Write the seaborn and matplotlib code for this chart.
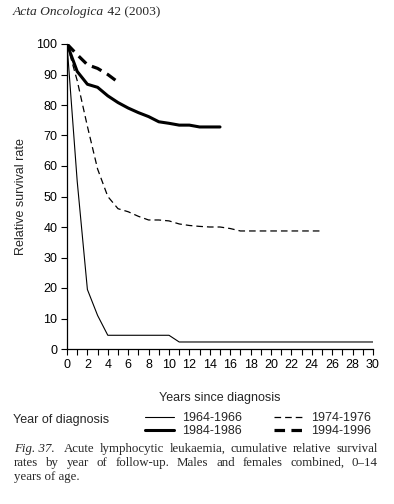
import matplotlib
matplotlib.use("Agg")
import matplotlib.pyplot as plt
from matplotlib.lines import Line2D
import pandas as pd
import seaborn as sns

# relative survival (%) by years since diagnosis
years_6466 = list(range(0, 31))
surv_6466 = [100, 55, 19.5, 11, 4.5, 4.5, 4.5, 4.5, 4.5, 4.5, 4.5,
             2.3, 2.3, 2.3, 2.3, 2.3, 2.3, 2.3, 2.3, 2.3, 2.3,
             2.3, 2.3, 2.3, 2.3, 2.3, 2.3, 2.3, 2.3, 2.3, 2.3]

years_7476 = list(range(0, 26))
surv_7476 = [100, 88, 73, 59, 50, 46, 45, 43.5, 42.3, 42.3, 42, 41, 40.5,
             40.2, 40, 40, 39.5, 38.7, 38.7, 38.7, 38.7, 38.7, 38.7, 38.7,
             38.7, 38.7]

years_8486 = list(range(0, 16))
surv_8486 = [100, 91, 86.8, 85.8, 83, 80.8, 79, 77.5, 76.2, 74.5, 74, 73.4,
             73.4, 72.8, 72.8, 72.8]

years_9496 = list(range(0, 6))
surv_9496 = [100, 96.5, 93.2, 92, 90, 87.5]

periods = ["1964-1966", "1974-1976", "1984-1986", "1994-1996"]
x_ticks = list(range(0, 31))
x_labels = [str(t) if t % 2 == 0 else "" for t in x_ticks]
y_ticks = list(range(0, 101, 10))

caption_1 = ["Acute", "lymphocytic", "leukaemia,", "cumulative", "relative", "survival"]
caption_2 = ["rates", "by", "year", "of", "follow-up.", "Males", "and", "females",
             "combined,", "0\u201314"]
caption_3 = "years of age."

frames = []
for p, xs, ys in zip(periods,
                     [years_6466, years_7476, years_8486, years_9496],
                     [surv_6466, surv_7476, surv_8486, surv_9496]):
    frames.append(pd.DataFrame({"years": xs, "survival": ys, "period": p}))
df = pd.concat(frames, ignore_index=True)

sns.set_theme(style="ticks")
plt.rcParams["font.family"] = ["Liberation Sans", "DejaVu Sans"]

W, H = 394, 504
fig = plt.figure(figsize=(W / 100, H / 100), dpi=100)
ax = fig.add_axes([67 / W, 155 / H, 306 / W, 305 / H])

widths = {"1964-1966": 0.8, "1974-1976": 0.9, "1984-1986": 2.2, "1994-1996": 2.3}
dashes = {"1964-1966": "", "1974-1976": (5.3, 3.2),
          "1984-1986": "", "1994-1996": (3.3, 2.0)}

sns.lineplot(data=df, x="years", y="survival", style="period", size="period",
             sizes=widths, dashes=dashes, style_order=periods, size_order=periods,
             color="black", legend=False, ax=ax)

ax.set_xlim(0, 30)
ax.set_ylim(0, 100)
ax.set_xticks(x_ticks)
ax.set_xticklabels(x_labels)
ax.set_yticks(y_ticks)
ax.tick_params(axis="both", labelsize=9, length=4, width=0.8, color="black",
               labelcolor="black", pad=3)
for s in ["left", "bottom"]:
    ax.spines[s].set_linewidth(0.9)
    ax.spines[s].set_color("black")
sns.despine(ax=ax)

ax.set_xlabel("Years since diagnosis", fontsize=9)
ax.set_ylabel("Relative survival rate", fontsize=9)
ax.xaxis.set_label_coords(0.5, -0.14)
ax.yaxis.set_label_coords(-0.13, 0.5)

# legend block under the axis
fig.text(13 / W, 1 - 420 / H, "Year of diagnosis", fontsize=9, va="center")
handles = [Line2D([], [], color="black", lw=widths[p],
                  dashes=dashes[p] if dashes[p] else (None, None)) for p in periods]
order = [0, 2, 1, 3]
fig.legend([handles[i] for i in order], [periods[i] for i in order], ncol=2,
           loc="upper left", bbox_to_anchor=(145 / W, 1 - 412 / H),
           frameon=False, fontsize=9, handlelength=2.3, handletextpad=0.7,
           columnspacing=2.5, labelspacing=0.1, borderpad=0, borderaxespad=0)

# header and caption (serif, as in the journal page)
fig.canvas.draw()
r = fig.canvas.get_renderer()
serif = ["Liberation Serif", "DejaVu Serif"]


def width_px(t):
    return t.get_window_extent(renderer=r).width


t = fig.text(13 / W, 1 - 15 / H, "Acta Oncologica", fontsize=9.7, family=serif,
             style="italic", va="baseline")
fig.text((13 + width_px(t)) / W, 1 - 15 / H, " 42 (2003)", fontsize=9.7,
         family=serif, va="baseline")

left, right = 14, 378
cap_size = 9.3


def justify(words, y, first=None):
    items = []
    weights = []
    if first is not None:
        items.append(fig.text(0, y, first, fontsize=cap_size, family=serif,
                              style="italic", va="baseline"))
    for w in words:
        items.append(fig.text(0, y, w, fontsize=cap_size, family=serif, va="baseline"))
    ws = [width_px(t) for t in items]
    weights = [1.0] * (len(items) - 1)
    if first is not None:
        weights[0] = 1.8
    gap = (right - left - sum(ws)) / sum(weights)
    x = left
    for i, (t, w) in enumerate(zip(items, ws)):
        t.set_x(x / W)
        if i < len(weights):
            x += w + gap * weights[i]


justify(caption_1, 1 - 452 / H, first="Fig. 37.")
justify(caption_2, 1 - 466 / H)
fig.text(left / W, 1 - 480 / H, caption_3, fontsize=cap_size, family=serif,
         va="baseline")

fig.savefig("out.png", dpi=100)
